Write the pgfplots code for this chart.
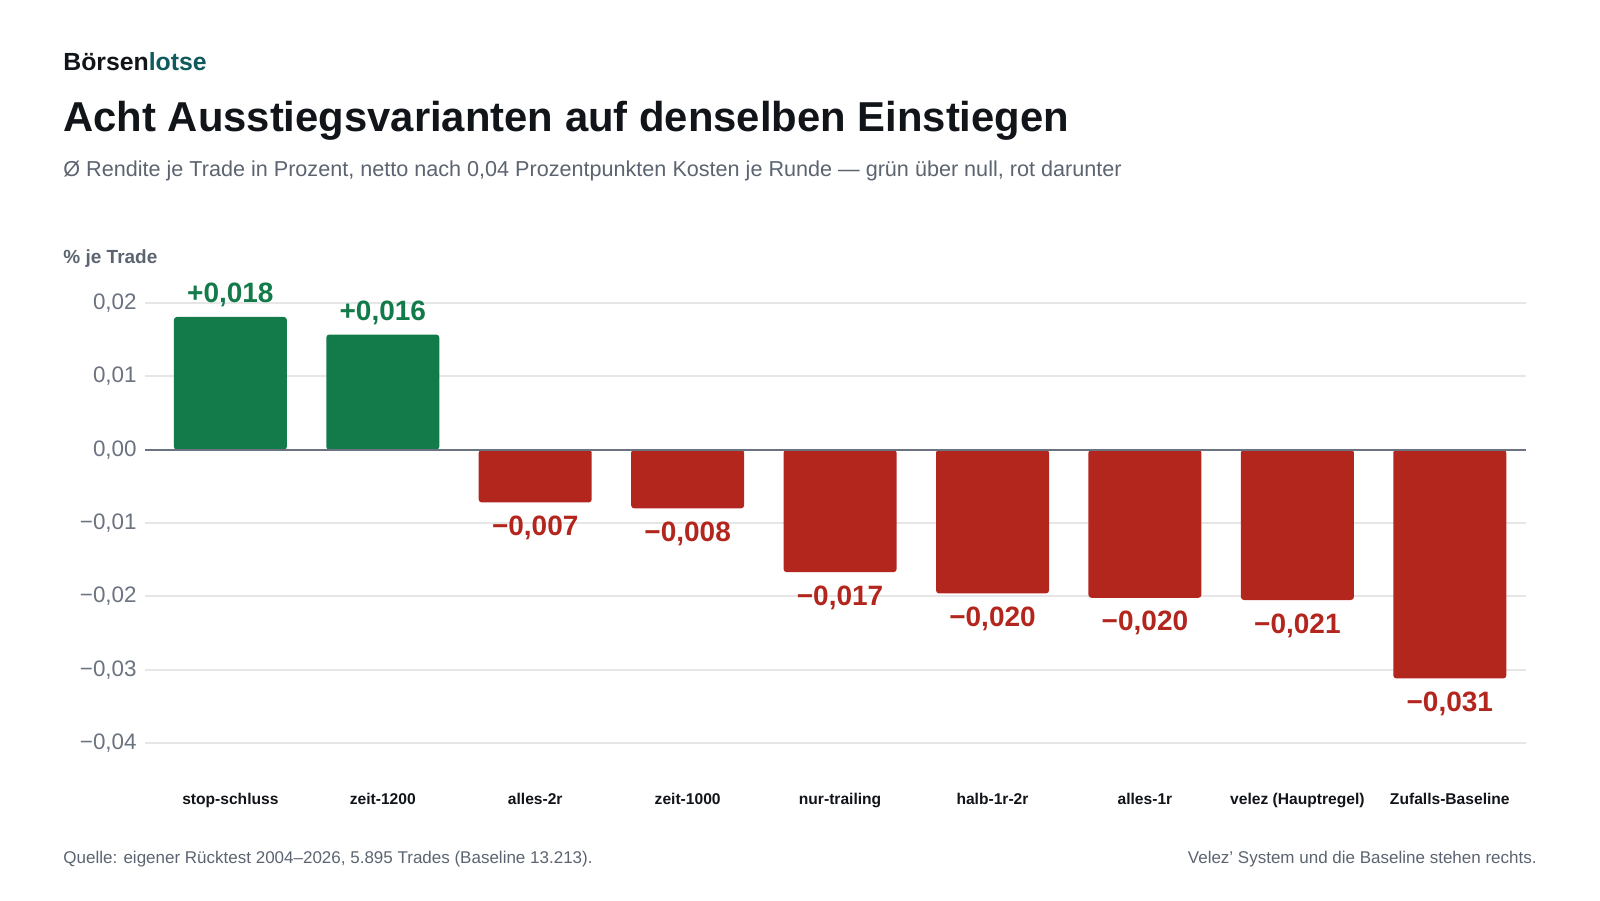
\documentclass[border=0pt]{standalone}
\usepackage{fontspec}
\setmainfont{Liberation Sans}
\usepackage{pgfplots}
\pgfplotsset{compat=1.18}
\usepackage{pgfplotstable}
\definecolor{ink}{HTML}{111418}
\definecolor{sub}{HTML}{5B6470}
\definecolor{tick}{HTML}{6B7280}
\definecolor{teal}{HTML}{0F5A5C}
\definecolor{grn}{HTML}{137A4A}
\definecolor{rd}{HTML}{B3261E}
\definecolor{gridc}{HTML}{E6E6E6}
\pgfplotstableread{
x y lab
0 0.0181 {+0,018}
1 0.0157 {+0,016}
}\pos
\pgfplotstableread{
x y lab
2 -0.0072 {−0,007}
3 -0.0080 {−0,008}
4 -0.0167 {−0,017}
5 -0.0196 {−0,020}
6 -0.0202 {−0,020}
7 -0.0205 {−0,021}
8 -0.0312 {−0,031}
}\negv
\begin{document}
\begin{tikzpicture}[x=1pt,y=1pt]
\path[use as bounding box] (0pt,0pt) rectangle (800pt,450pt);
\node[anchor=base west,inner sep=0,font=\fontsize{12.4}{14}\selectfont\bfseries,text=ink] at (31.5pt,414.5pt) {Börsen\textcolor{teal}{lotse}};
\node[anchor=base west,inner sep=0,font=\fontsize{20.9}{24}\selectfont\bfseries,text=ink] at (31.5pt,384pt) {Acht Ausstiegsvarianten auf denselben Einstiegen};
\node[anchor=base west,inner sep=0,font=\fontsize{10.8}{12}\selectfont,text=sub] at (31.5pt,361.5pt) {Ø Rendite je Trade in Prozent, netto nach 0,04 Prozentpunkten Kosten je Runde — grün über null, rot darunter};
\node[anchor=base west,inner sep=0,font=\fontsize{9.5}{11}\selectfont\bfseries,text=sub] at (31.5pt,318pt) {\% je Trade};
\node[anchor=base west,inner sep=0,font=\fontsize{8.5}{10}\selectfont,text=sub] at (31.5pt,18.5pt) {Quelle: eigener Rücktest 2004–2026, 5.895 Trades (Baseline 13.213).};
\node[anchor=base east,inner sep=0,font=\fontsize{8.5}{10}\selectfont,text=sub] at (768.5pt,18.5pt) {Velez’ System und die Baseline stehen rechts.};
\begin{axis}[
  at={(72.5pt,78.5pt)}, anchor=south west,
  width=690.5pt, height=220pt, scale only axis,
  xmin=-0.56, xmax=8.5, ymin=-0.04, ymax=0.02,
  axis line style={draw=none},
  major tick length=0pt,
  scaled y ticks=false,
  ytick={-0.04,-0.03,-0.02,-0.01,0,0.01,0.02},
  yticklabels={{−0,04},{−0,03},{−0,02},{−0,01},{0,00},{0,01},{0,02}},
  yticklabel style={font=\fontsize{11.2}{13}\selectfont,text=tick,inner sep=0pt,xshift=-4pt},
  ymajorgrids, grid style={gridc,line width=1pt},
  xtick={0,...,8},
  xticklabels={stop-schluss,zeit-1200,alles-2r,zeit-1000,nur-trailing,halb-1r-2r,alles-1r,velez (Hauptregel),Zufalls-Baseline},
  xticklabel style={font=\fontsize{7.8}{9}\selectfont\bfseries,text=ink,anchor=base,inner sep=0pt,yshift=-30.5pt},
  clip=false,
  ybar, bar width=56.5pt, bar shift=0pt,
  nodes near coords,
  point meta=explicit symbolic,
  every node near coord/.append style={font=\fontsize{14}{16}\selectfont\bfseries,inner sep=0pt,anchor=base},
]
\addplot[fill=grn,draw=none,rounded corners=1.5pt,
  every node near coord/.append style={text=grn,yshift=7pt}] table[x=x,y=y,meta=lab] {\pos};
\addplot[fill=rd,draw=none,rounded corners=1.5pt,
  every node near coord/.append style={text=rd,yshift=-16.5pt}] table[x=x,y=y,meta=lab] {\negv};
\draw[tick,line width=1pt] (axis cs:-0.56,0) -- (axis cs:8.5,0);
\end{axis}
\end{tikzpicture}
\end{document}
